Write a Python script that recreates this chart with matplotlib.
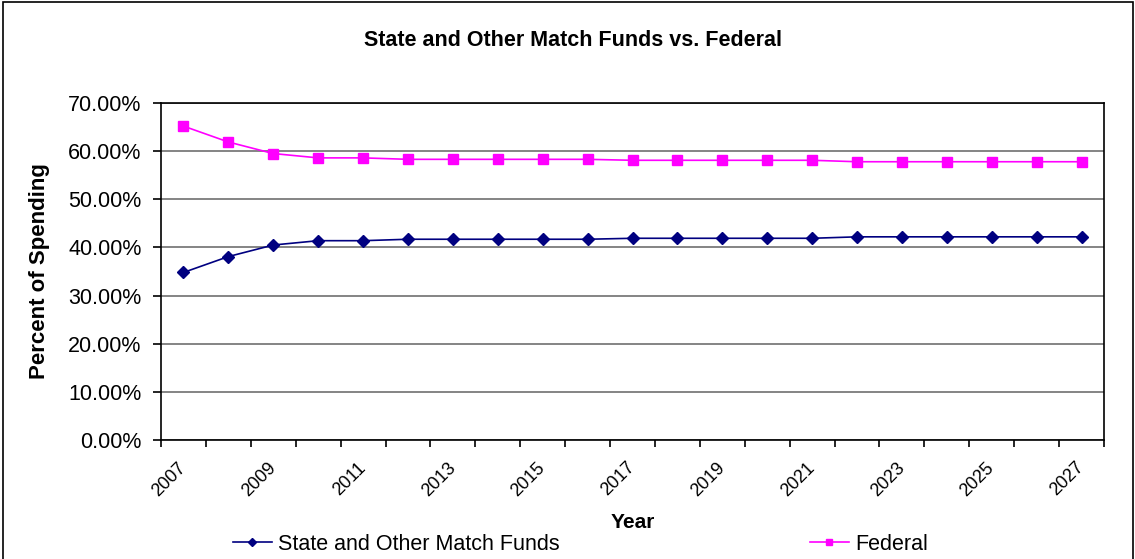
import numpy as np
import matplotlib
matplotlib.use("Agg")
import matplotlib.pyplot as plt
from matplotlib.patches import Rectangle
from matplotlib.ticker import FuncFormatter

plt.rcParams['font.family'] = ['Liberation Sans', 'DejaVu Sans']

# data (percent of spending)
years = list(range(2007, 2028))
federal = [65.2, 61.9, 59.5, 58.6, 58.6, 58.3, 58.3, 58.3, 58.3, 58.3,
           58.1, 58.1, 58.1, 58.1, 58.1, 57.8, 57.8, 57.8, 57.8, 57.8, 57.8]
state = [34.8, 38.1, 40.5, 41.4, 41.4, 41.7, 41.7, 41.7, 41.7, 41.7,
         41.9, 41.9, 41.9, 41.9, 41.9, 42.2, 42.2, 42.2, 42.2, 42.2, 42.2]
y_ticks = [0, 10, 20, 30, 40, 50, 60, 70]

W, H = 1135, 559
fig = plt.figure(figsize=(W / 100, H / 100), dpi=100)
ax = fig.add_axes([161 / W, 1 - 440 / H, (1104 - 161) / W, (440 - 103) / H])

x = np.arange(len(years))
l1, = ax.plot(x, state, color='#000080', lw=1.2, marker='D', ms=6.5,
              label='State and Other Match Funds')
l2, = ax.plot(x, federal, color='#FF00FF', lw=1.2, marker='s', ms=7,
              label='Federal')

ax.set_xlim(-0.5, len(years) - 0.5)
ax.set_ylim(0, 70)
ax.set_yticks(y_ticks)
ax.yaxis.set_major_formatter(FuncFormatter(lambda v, p: f"{v:.2f}%"))
ax.grid(axis='y', color='#707070', lw=1.2)
ax.set_axisbelow(True)

ax.set_xticks(x[::2])
ax.set_xticklabels([str(y) for y in years[::2]], rotation=45, ha='right',
                   va='center', rotation_mode='anchor', fontsize=13)
ax.set_xticks(np.arange(-0.5, len(years), 1), minor=True)
ax.tick_params(axis='x', which='major', length=0, pad=18)
ax.tick_params(axis='x', which='minor', length=5, width=1.2, direction='out')
ax.tick_params(axis='y', length=5.5, width=1.2, labelsize=15.5, pad=8.5)

for s in ax.spines.values():
    s.set_linewidth(1.2)
    s.set_color('black')

fig.text(573 / W, 1 - 40 / H, 'State and Other Match Funds vs. Federal',
         ha='center', va='center', fontsize=15.5, fontweight='bold')
fig.text(40 / W, 1 - 271 / H, 'Percent of Spending', rotation=90,
         ha='center', va='center', fontsize=16, fontweight='bold')
fig.text(633 / W, 1 - 523 / H, 'Year', ha='center', va='center',
         fontsize=15, fontweight='bold')

for h, xpos in [(l1, 233), (l2, 810)]:
    fig.legend(handles=[h], loc='center left', bbox_to_anchor=(xpos / W, 1 - 544 / H),
               frameon=False, fontsize=15.5, borderpad=0, borderaxespad=0,
               handlelength=1.8, handletextpad=0.3, markerscale=0.7)

fig.patches.append(Rectangle((3 / W, -0.02), 1 - 5 / W, 1.02 - 2 / H,
                             transform=fig.transFigure, fill=False,
                             edgecolor='black', lw=1.2))

fig.savefig('out.png', dpi=100)
